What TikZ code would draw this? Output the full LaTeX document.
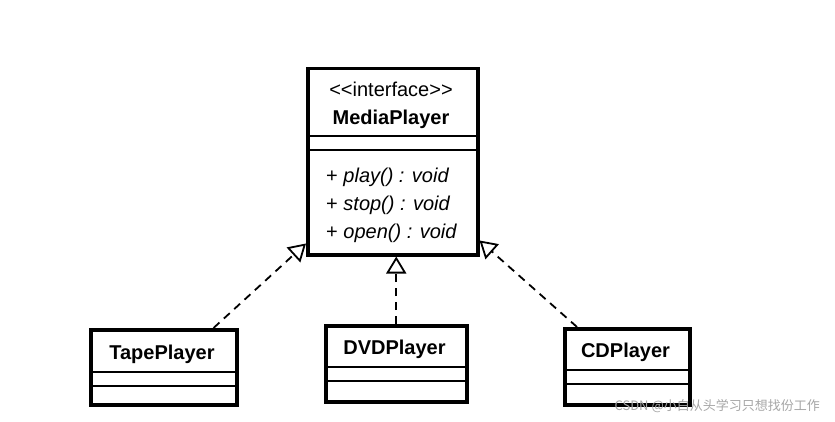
\documentclass[tikz,border=0pt]{standalone}
\usepackage{fontspec}
\setmainfont{Liberation Sans}
\newfontfamily\cjk{Noto Sans CJK SC}
\usepackage{tikz}
\usepackage{xcolor}
\usetikzlibrary{arrows.meta}
\tikzset{
	classbox/.style={draw, line width=3.5pt, inner sep=0pt},
	sepline/.style={line width=1.6pt},
	classname/.style={align=center, font=\fontsize{20}{28}\selectfont\bfseries, inner sep=0pt},
	method/.style={anchor=west, font=\fontsize{20}{24}\selectfont, inner sep=0pt},
	realize/.style={line width=1.8pt, dash pattern=on 8pt off 6pt,
	  -{Triangle[open, length=17pt, width=20pt, line width=1.8pt]}},
	watermark/.style={font=\cjk\fontsize{13}{15}\selectfont, text=black!35, inner sep=0pt}
}
\newcommand{\umlclass}[7]{
% a class is drawn as a box with three fields:
% [name | attributes | methods]
% #1 node name, (#2, #3) top left corner, #4 width, #5 height,
% #6 height of the name field, #7 the name text
\begin{scope}[shift={(#2, #3)}]
	\def\boxwidth{#4}
	\def\boxheight{#5}
	\def\namefield{#6}
	\def\emptyfield{14}
	\node[classbox, minimum width=\boxwidth pt, minimum height=\boxheight pt,
	  anchor=north west] (#1) at (0, 0) {};
	\draw[sepline] (0, \namefield) -- (\boxwidth, \namefield);
	\draw[sepline] (0, \namefield+\emptyfield) -- (\boxwidth, \namefield+\emptyfield);
	\node[classname] (#1-name) at (\boxwidth/2, \namefield/2+4) {#7};
\end{scope}
}

\begin{document}
\begin{tikzpicture}[x=1pt, y=-1pt]
\useasboundingbox (0, 0) rectangle (835, 422);

% the interface
\umlclass{media}{306}{67}{170}{186}{69}{\mdseries<{}<interface>{}>\\MediaPlayer}
\node[method] (play) at (326, 177) {+ \textit{play() : void}};
\node[method] (stop) at (326, 205) {+ \textit{stop() : void}};
\node[method] (open) at (326, 233) {+ \textit{open() : void}};

% the classes that realize it
\umlclass{tape}{89}{328}{146}{75}{44}{TapePlayer}
\umlclass{dvd}{324}{324}{141}{76}{43}{DVDPlayer}
\umlclass{cd}{563}{327}{125}{76}{43}{CDPlayer}

\draw[realize] ([xshift=-25pt]tape.north east) -- ([yshift=13pt]media.south west);
\draw[realize] (dvd.north) -- (dvd.north |- media.south);
\draw[realize] ([xshift=14pt]cd.north west) -- ([yshift=16pt]media.south east);

\node[watermark, anchor=east] (mark) at (820, 406) {CSDN @小白从头学习只想找份工作};
\end{tikzpicture}
\end{document}
